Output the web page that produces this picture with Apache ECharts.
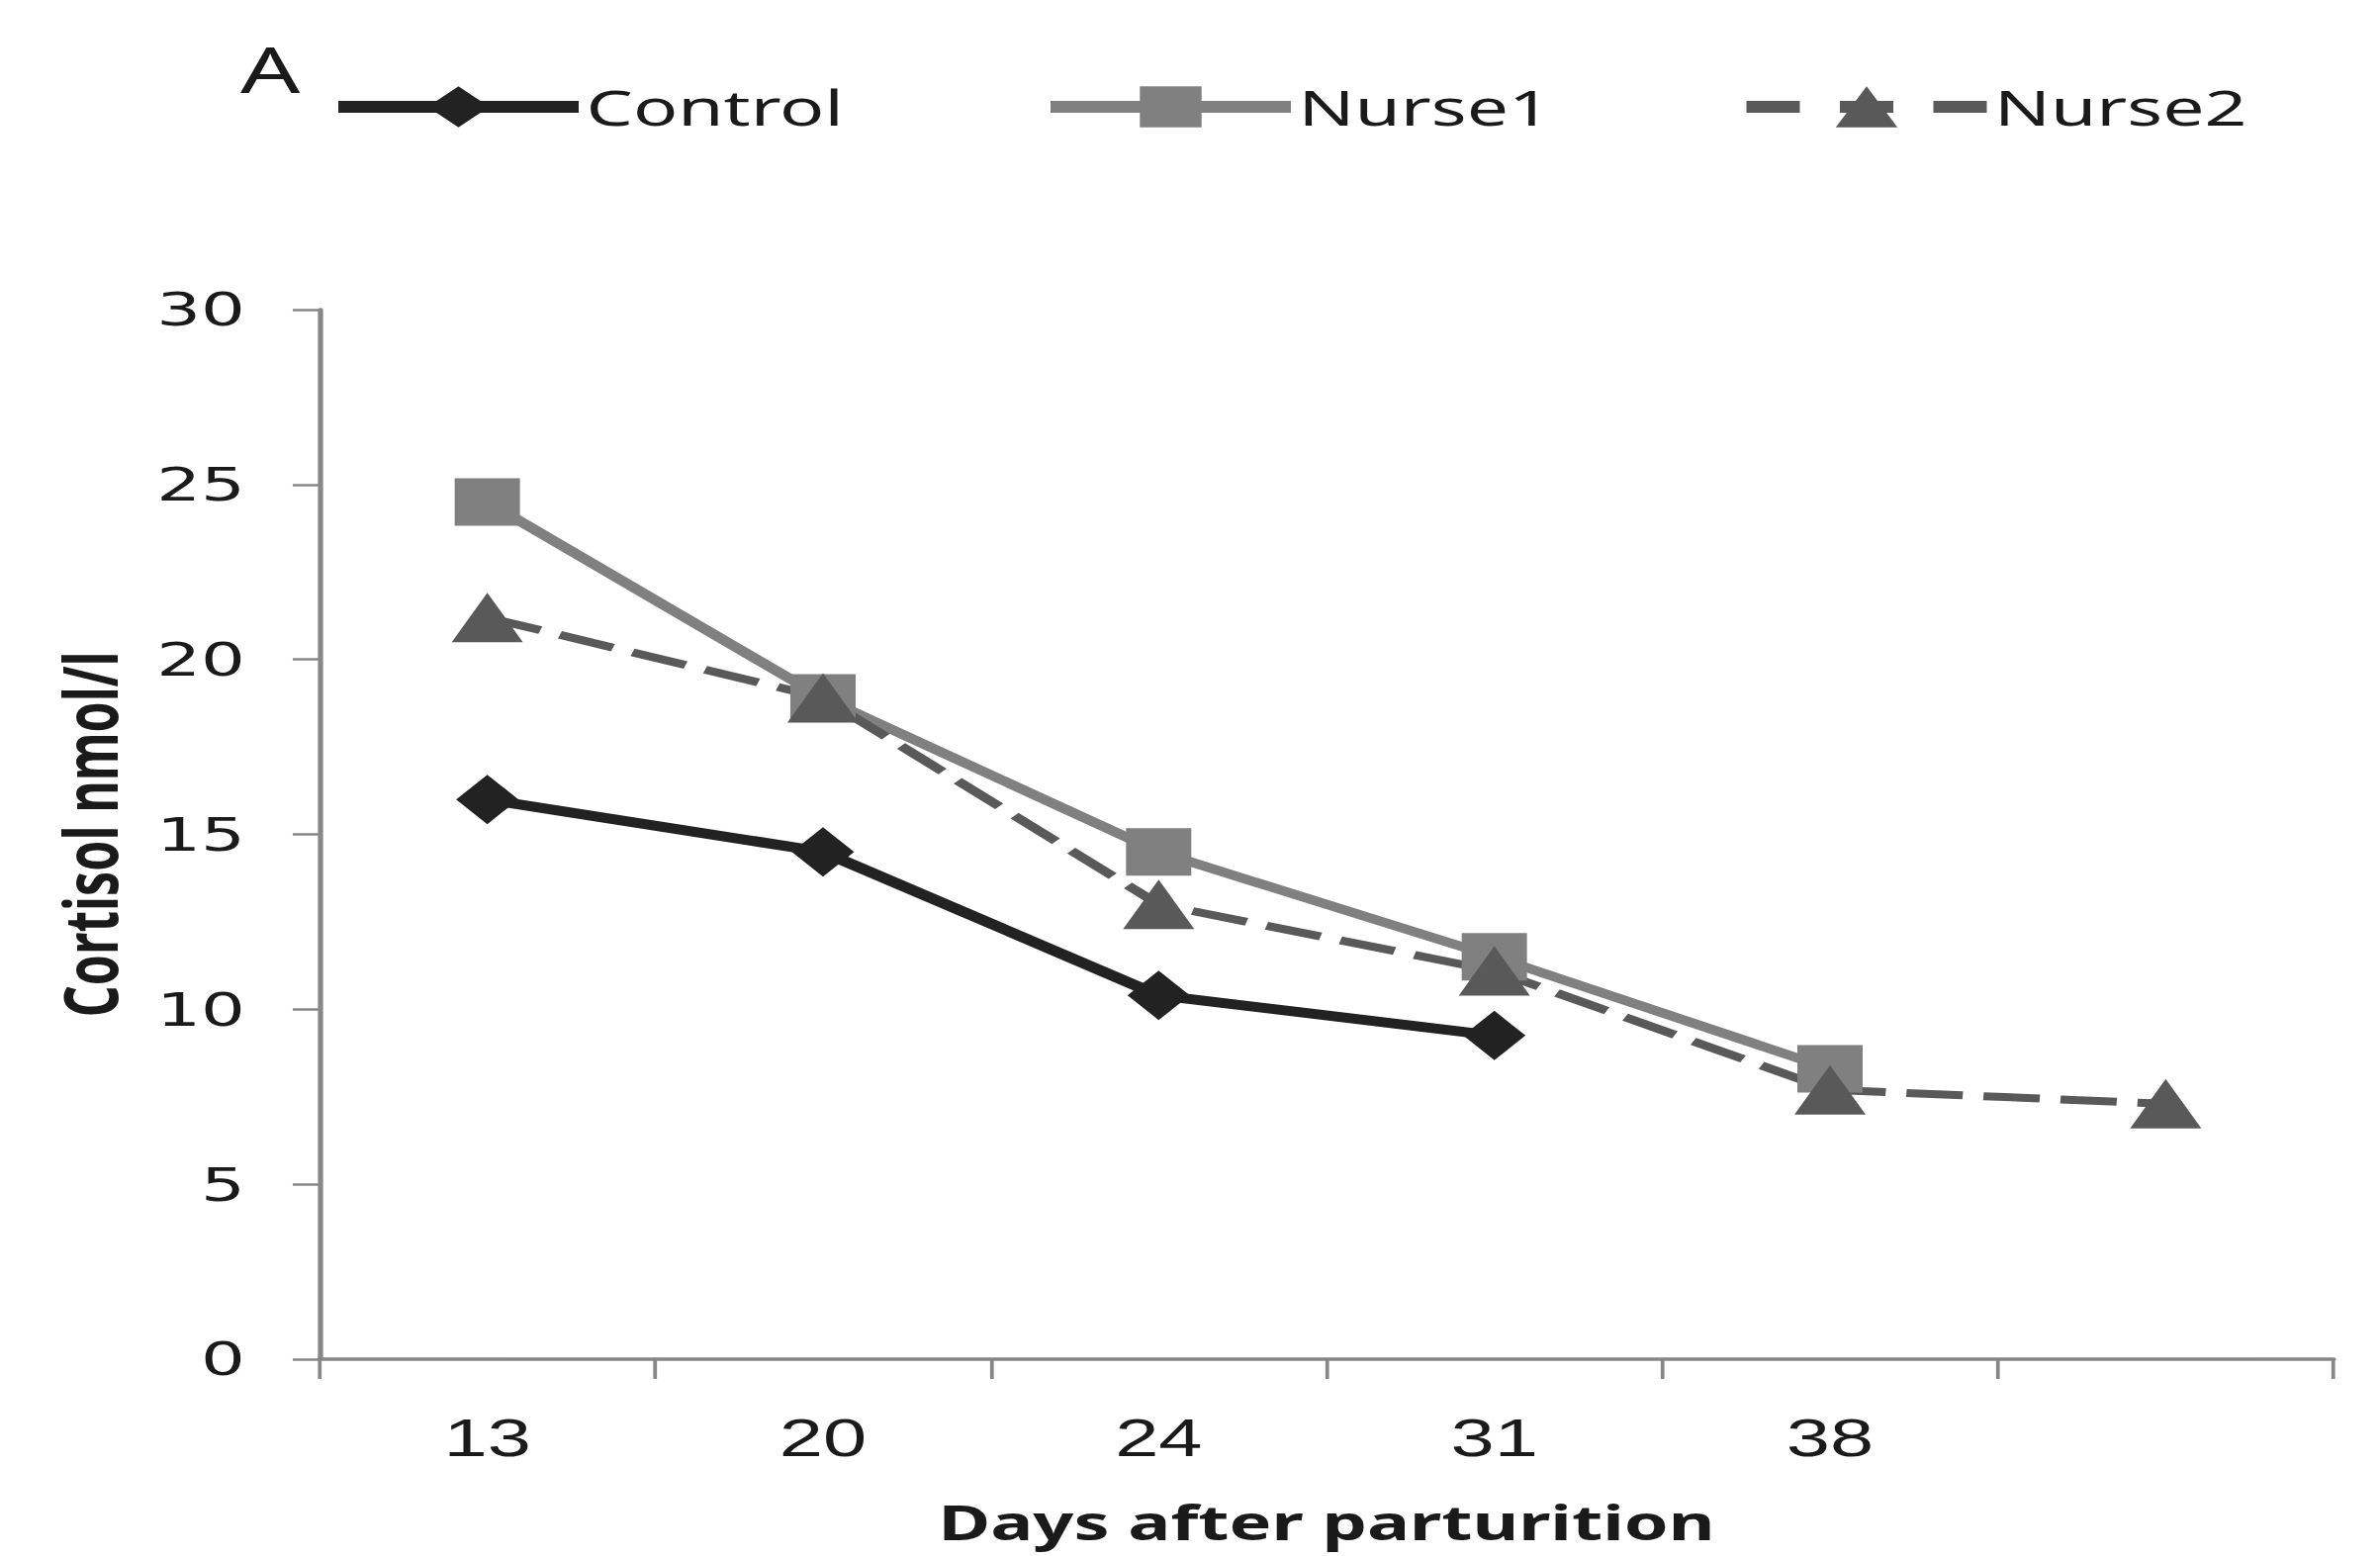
<!DOCTYPE html>
<html><head><meta charset="utf-8">
<script src="https://cdn.jsdelivr.net/npm/echarts@6/dist/echarts.min.js"></script>
<style>
html,body{margin:0;padding:0;background:#fff;overflow:hidden;width:2406px;height:1573px;}
#chart{width:1604px;height:1573px;transform:scaleX(1.5);transform-origin:0 0;}
</style></head><body><div id="chart"></div>
<script>
// Data
const days = ['13', '20', '24', '31', '38', ''];
const control = [16.0, 14.5, 10.4, 9.25, null, null];
const nurse1 = [24.5, 18.9, 14.5, 11.5, 8.3, null];
const nurse2 = [21.2, 18.9, 13.0, 11.1, 7.7, 7.3];
const yMin = 0, yMax = 30, yStep = 5;

const chart = echarts.init(document.getElementById('chart'), null, {renderer: 'svg'});
const axisGray = '#878787';
const txt = '#1a1a1a';
const legendCommon = {
  top: 83, itemWidth: 162, itemHeight: 52, itemGap: 0, padding: 0,
  selectedMode: false,
  textStyle: {fontFamily: 'Noto Sans', fontSize: 50, color: txt}
};
chart.setOption({
  animation: false,
  backgroundColor: '#fff',
  title: {text: 'A', left: 162, top: 38, padding: 0,
    textStyle: {fontFamily: 'Noto Sans', fontSize: 63, fontWeight: 'normal', color: txt}},
  legend: [
    Object.assign({data: ['Control'], left: 222, lineStyle: {width: 12}}, legendCommon),
    Object.assign({data: ['Nurse1'], left: 702, lineStyle: {width: 12}}, legendCommon),
    Object.assign({data: ['Nurse2'], left: 1171, lineStyle: {width: 12, type: [36, 27]}}, legendCommon)
  ],
  grid: {left: 215.3, right: 31.3, top: 313, bottom: 199, containLabel: false},
  xAxis: {
    type: 'category', data: days, boundaryGap: true,
    name: 'Days after parturition', nameLocation: 'middle', nameGap: 141,
    nameTextStyle: {fontFamily: 'Noto Sans', fontSize: 48, fontWeight: 'bold', color: txt},
    axisLine: {lineStyle: {color: axisGray, width: 3.5}},
    axisTick: {show: true, length: 20, lineStyle: {color: axisGray, width: 2.5}},
    axisLabel: {interval: 0, margin: 53, fontFamily: 'Liberation Sans', fontSize: 53, color: txt},
    splitLine: {show: false}
  },
  yAxis: {
    type: 'value', min: yMin, max: yMax, interval: yStep,
    name: 'Cortisol nmol/l', nameLocation: 'middle', nameRotate: 90, nameGap: 130,
    nameTextStyle: {fontFamily: 'Noto Sans', fontSize: 50, fontWeight: 'bold', color: txt},
    axisLine: {show: true, lineStyle: {color: axisGray, width: 3.5}},
    axisTick: {show: true, length: 18, lineStyle: {color: axisGray, width: 2.5}},
    axisLabel: {margin: 50, fontFamily: 'DejaVu Sans', fontSize: 47, color: txt},
    splitLine: {show: false}
  },
  series: [
    {name: 'Control', type: 'line', data: control, symbol: 'diamond', symbolSize: [42, 50],
      lineStyle: {color: '#222222', width: 10}, itemStyle: {color: '#222222'}},
    {name: 'Nurse1', type: 'line', data: nurse1, symbol: 'rect', symbolSize: [44, 48],
      lineStyle: {color: '#808080', width: 9}, itemStyle: {color: '#808080'}},
    {name: 'Nurse2', type: 'line', data: nurse2, symbol: 'triangle', symbolSize: [48, 50],
      lineStyle: {color: '#595959', width: 8, type: [38, 14]}, itemStyle: {color: '#595959'}}
  ]
});
</script></body></html>
